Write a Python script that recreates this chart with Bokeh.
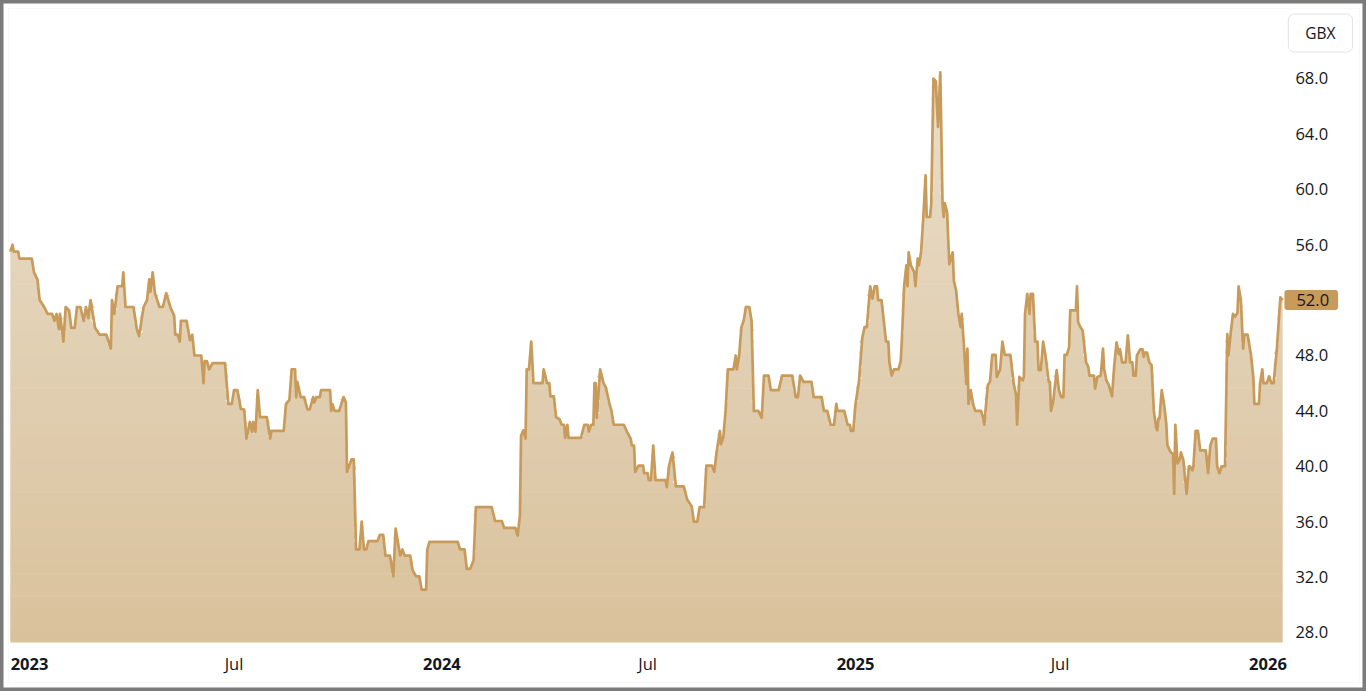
import numpy as np
import pandas as pd
from bokeh.plotting import figure
from bokeh.models import (Range1d, FixedTicker, NumeralTickFormatter,
                          DatetimeTickFormatter, DatetimeAxis, Label,
                          BoxAnnotation)
from bokeh.embed import file_html
from bokeh.resources import INLINE

# ---------------- data ----------------
base_date = "2023-01-01"          # day offsets are counted from this date
day_offsets = [
    -17, -15, -14, -10, -9, 2, 4, 7, 9, 13,
    16, 20, 22, 24, 26, 27, 30, 32, 35, 37,
    40, 42, 45, 48, 50, 52, 54, 58, 62, 68,
    72, 73, 75, 78, 82, 83, 85, 92, 95, 97,
    101, 104, 106, 107, 109, 111, 115, 118, 121, 125,
    128, 129, 131, 133, 134, 139, 142, 144, 146, 152,
    154, 155, 157, 159, 162, 173, 176, 179, 181, 184,
    187, 190, 192, 195, 197, 198, 200, 202, 204, 210,
    213, 214, 225, 227, 230, 232, 235, 236, 237, 240,
    243, 246, 248, 251, 252, 254, 257, 258, 266,
    267, 268, 270, 274, 278, 280, 281, 285, 287, 289, 292,
    294, 296, 298, 300, 308, 310, 313, 315, 319, 322,
    324, 326, 328, 330, 332, 337, 339, 342, 345, 347,
    351, 352, 354, 379, 381, 385, 387, 390, 393, 395,
    409, 412, 418, 420, 430, 432, 434, 435, 437, 439,
    440, 442, 444, 446, 454, 455, 458, 460, 461, 464,
    466, 469, 471, 473, 474, 476, 477, 488, 491, 494,
    495, 497, 499, 500, 501, 502, 505, 508, 510, 513,
    515, 517, 526, 529, 532, 533, 535, 536, 539, 541,
    543, 544, 547, 548, 550, 552, 554, 563, 564, 566,
    569, 572, 579, 582, 586, 588, 591, 593, 597, 599,
    604, 606, 608, 611, 612, 614, 616, 618, 623, 625,
    626, 628, 630, 632, 634, 637, 639, 641, 645, 648,
    650, 654, 656, 663, 666, 675, 678, 680, 682, 685,
    692, 694, 701, 703, 706, 709, 712, 714, 715, 721,
    724, 726, 727, 729, 731, 734, 737, 739, 741, 744,
    746, 748, 750, 751, 754, 756, 758, 760, 761, 763,
    765, 769, 771, 772, 774, 776, 777, 778, 780, 783,
    784, 786, 787, 789, 791, 793, 794, 797, 798, 800,
    802, 804, 806, 808, 809, 810, 812, 814, 817, 818,
    820, 822, 824, 825,
    827, 829, 830, 831, 833, 835, 837, 842, 844, 845,
    848, 850, 852, 855, 856, 859, 861, 863, 868, 871,
    873, 874, 876, 879, 880, 881, 883, 885, 886, 888,
    890, 892, 893, 895, 897, 899, 902, 903, 904, 906,
    909, 911, 913, 915, 916, 918, 920, 921, 926, 927,
    928, 930, 932, 935, 937, 938, 942, 943, 945, 948,
    950, 951, 953, 955, 958, 960, 962, 964, 965, 967,
    970, 972, 974, 976, 977, 979, 980, 983, 985, 986,
    987, 989, 991, 993, 995, 997, 998, 999, 1000, 1002,
    1004, 1006, 1007, 1010, 1012, 1013, 1014, 1016, 1018, 1019,
    1021, 1024, 1026, 1027, 1029, 1030, 1032, 1034, 1036, 1041,
    1043, 1045, 1047, 1050, 1051, 1053, 1055, 1058, 1060, 1061,
    1063, 1065, 1067, 1069, 1070, 1072, 1074, 1075, 1078, 1081,
    1083, 1084, 1088, 1089, 1091, 1092, 1095, 1097, 1099, 1101,
    1104, 1106, 1107, 1109,
]
prices = [
    55.5, 56.0, 55.5, 55.5, 55.0, 55.0, 54.0, 53.5, 52.0, 51.5,
    51.0, 51.0, 50.5, 51.0, 49.9, 51.0, 49.0, 51.5, 51.25, 50.0,
    50.0, 51.5, 51.5, 50.5, 51.5, 50.7, 52.0, 50.0, 49.5, 49.5,
    48.5, 52.0, 51.0, 53.0, 53.0, 54.0, 51.5, 51.5, 49.9, 49.4,
    51.5, 52.0, 53.5, 52.6, 54.0, 52.5, 51.5, 51.5, 52.5, 51.4,
    50.9, 49.5, 49.5, 49.0, 50.5, 50.5, 49.1, 49.5, 48.0, 48.0,
    46.0, 47.6, 47.6, 47.0, 47.45, 47.45, 44.5, 44.5, 45.5, 45.5,
    44.15, 44.1, 42.0, 43.2, 42.5, 43.2, 42.5, 45.5, 43.55, 43.55,
    42.0, 42.55, 42.55, 44.5, 44.8, 47.0, 47.0, 45.0, 46.1, 45.0,
    45.0, 44.1, 44.1, 45.0, 44.6, 45.0, 45.0, 45.5, 45.5,
    44.0, 44.5, 44.0, 44.0, 45.0, 44.6, 39.6, 40.5, 40.5, 34.0, 34.0,
    36.0, 34.0, 34.0, 34.6, 34.6, 35.05, 35.05, 33.55, 33.55, 32.05,
    35.5, 34.55, 33.55, 34.0, 33.55, 33.55, 32.5, 32.05, 32.05, 31.1,
    31.1, 34.0, 34.55, 34.55, 34.0, 34.0, 32.6, 32.6, 33.2, 37.05,
    37.05, 36.05, 36.05, 35.55, 35.55, 35.0, 36.45, 42.2, 42.6, 42.0,
    47.0, 47.0, 49.0, 46.0, 46.0, 47.0, 46.0, 46.0, 45.05, 45.05,
    43.55, 43.4, 43.0, 43.0, 42.05, 43.0, 42.05, 42.05, 43.0, 43.0,
    42.5, 43.0, 43.0, 46.0, 46.0, 43.5, 47.0, 46.0, 45.7, 44.6,
    44.0, 43.0, 43.0, 42.45, 42.0, 41.5, 41.5, 39.6, 40.05, 40.05,
    40.05, 39.5, 39.5, 39.0, 39.0, 41.5, 39.0, 39.0, 38.5, 40.05,
    41.0, 38.55, 38.55, 37.6, 37.1, 36.0, 36.0, 37.05, 37.05, 40.05,
    40.05, 39.6, 41.0, 42.55, 41.6, 42.1, 44.0, 47.0, 47.0, 48.0,
    47.0, 48.0, 50.05, 50.5, 51.5, 51.5, 50.5, 44.0, 44.0, 43.5,
    46.55, 46.55, 45.5, 45.5, 46.55, 46.55, 45.0, 45.0, 46.55, 46.1,
    46.1, 45.0, 45.0, 44.0, 44.0, 43.0, 43.0, 44.5, 44.0, 44.0,
    43.0, 43.0, 42.55, 42.55, 44.5, 46.1, 49.3, 50.05, 50.05, 53.0,
    52.1, 53.0, 53.0, 52.0, 52.0, 50.5, 49.0, 49.0, 47.5, 46.55,
    47.0, 47.0, 47.6, 49.1, 53.0, 54.5, 53.0, 55.45, 54.5, 54.0,
    53.0, 55.0, 54.5, 55.45, 58.0, 61.0, 58.0, 58.0, 58.95, 68.0,
    67.8, 64.5, 68.45, 58.95, 58.0, 59.0, 58.35, 54.6, 55.45, 53.4,
    52.7, 51.0, 50.05, 51.0,
    48.6, 45.95, 48.5, 44.5, 45.5, 44.5, 44.0, 44.0, 43.5, 43.0,
    45.85, 46.1, 48.05, 48.05, 46.45, 47.0, 49.0, 48.05, 48.05, 45.95,
    45.2, 43.0, 46.45, 46.2, 46.45, 51.0, 52.45, 51.0, 52.45, 52.45,
    49.0, 49.0, 46.95, 46.95, 49.0, 48.05, 46.1, 46.1, 44.0, 44.7,
    46.95, 45.5, 45.0, 45.0, 48.05, 48.05, 48.6, 51.25, 51.25, 53.0,
    50.4, 50.05, 49.8, 47.5, 47.2, 46.55, 46.55, 45.6, 46.45, 46.55,
    48.5, 47.0, 46.2, 45.9, 45.05, 47.3, 48.95, 48.1, 48.45, 47.5,
    47.5, 49.45, 47.5, 47.5, 46.55, 46.55, 48.0, 48.45, 48.45, 47.9,
    48.2, 48.2, 47.5, 47.3, 44.0, 42.8, 42.6, 43.45, 43.45, 45.5,
    44.5, 43.1, 41.5, 41.0, 40.9, 38.0, 43.0, 40.2, 40.5, 41.0,
    40.5, 38.0, 40.0, 40.0, 39.7, 40.0, 42.55, 42.55, 41.15, 41.15,
    39.5, 41.5, 42.0, 42.0, 40.0, 39.5, 40.0, 40.0, 49.55, 48.0,
    49.6, 51.0, 50.8, 51.1, 53.0, 52.0, 48.5, 49.5, 49.5, 48.0,
    46.45, 44.5, 44.5, 46.0, 47.0, 46.0, 46.0, 46.5, 46.0, 46.0,
    48.6, 51.1, 52.2, 52.0,
]
year_ticks = ["2023-01-01", "2024-01-01", "2025-01-01", "2026-01-01"]
mid_ticks = ["2023-07-01", "2024-07-01", "2025-07-01"]
y_ticks = [28, 32, 36, 40, 44, 48, 52, 56, 60, 64, 68]
currency = "GBX"

# ---------------- styling / view ----------------
LINE = "#c89b5b"
TEXT = "#131722"
FONT = "Open Sans"
FSIZE = "16.5px"
FILL_TOP = (234, 222, 203)
FILL_BOT = (217, 193, 155)

base = pd.Timestamp(base_date)
dates = base + pd.to_timedelta(day_offsets, unit="D")
price_arr = np.array(prices, dtype=float)


def ms(ts):
    return pd.Timestamp(ts).value / 1e6


def day_ms(d):
    return ms(base + pd.Timedelta(days=d))


# view window (the whole canvas is the plotting frame)
x_lo, x_hi = -25.66, 1183.19        # days from base_date
y_lo, y_hi = 23.74, 73.63
area_floor = 27.28                  # bottom of the price pane
pane_right = 1108.8                 # right edge of the price pane (days)

p = figure(width=1366, height=691, x_axis_type="datetime",
           x_range=Range1d(day_ms(x_lo), day_ms(x_hi)),
           y_range=Range1d(y_lo, y_hi),
           y_axis_location="right", output_backend="svg",
           toolbar_location=None, min_border=0,
           background_fill_color="white", border_fill_color="white",
           outline_line_color="#7b7b7b", outline_line_width=6)
p.grid.visible = False

# thin light frame around the chart widget
p.add_layout(BoxAnnotation(left=day_ms(-18.58), right=day_ms(1177.0),
                           top=73.05, bottom=24.39, fill_color=None,
                           line_color="#e9e9e9", line_width=1))

# gradient area fill: horizontal bands under the price line
n_bands = 50
edges = np.linspace(area_floor, 69.0, n_bands + 1)
for k in range(n_bands):
    lo = area_floor if k == 0 else edges[k] - 0.04
    hi = edges[k + 1] if k < n_bands - 1 else 80.0
    t = (0.5 * (edges[k] + edges[k + 1]) - area_floor) / (69.0 - area_floor)
    rgb = [int(round(b + (a - b) * t)) for a, b in zip(FILL_TOP, FILL_BOT)]
    col = "#%02x%02x%02x" % tuple(rgb)
    p.varea(x=dates, y1=lo, y2=np.clip(price_arr, lo, hi), fill_color=col)

p.line(x=dates, y=price_arr, line_color=LINE, line_width=2.7,
       line_join="round")


def style_axis(ax):
    ax.axis_line_color = None
    ax.major_tick_line_color = None
    ax.minor_tick_line_color = None
    ax.major_tick_out = 0
    ax.major_tick_in = 0
    ax.major_label_text_font = FONT
    ax.major_label_text_font_size = FSIZE
    ax.major_label_text_color = TEXT


# x axis: years (bold)
xa = p.xaxis[0]
style_axis(xa)
xa.ticker = FixedTicker(ticks=[ms(d) for d in year_ticks])
xa.formatter = DatetimeTickFormatter(years="%Y", months="%Y", days="%Y",
                                     hours="%Y", minutes="%Y")
xa.major_label_text_font_style = "bold"
xa.major_label_standoff = 16
xa.fixed_location = area_floor

# x axis: months (normal)
xm = DatetimeAxis(ticker=FixedTicker(ticks=[ms(d) for d in mid_ticks]),
                  formatter=DatetimeTickFormatter(years="%b", months="%b",
                                                  days="%b", hours="%b",
                                                  minutes="%b"))
style_axis(xm)
xm.major_label_standoff = 10
xm.fixed_location = area_floor
p.add_layout(xm, "below")

# y axis (right)
ya = p.yaxis[0]
style_axis(ya)
ya.ticker = FixedTicker(ticks=y_ticks)
ya.formatter = NumeralTickFormatter(format="0.0")
ya.major_label_standoff = 13
ya.fixed_location = day_ms(pane_right)

# currency box
p.add_layout(Label(x=day_ms(pane_right), y=71.28, x_offset=38, text=currency,
                   text_align="center", text_baseline="middle",
                   text_font=FONT, text_font_size="15.5px", text_color=TEXT,
                   background_fill_color="white",
                   border_line_color="#e0e3eb", border_line_width=1,
                   padding=dict(left=17, right=17, top=8, bottom=8),
                   border_radius=6))

# last price tag
p.add_layout(Label(x=day_ms(pane_right), y=prices[-1], x_offset=2,
                   text="%.1f" % prices[-1], text_align="left",
                   text_baseline="middle", text_font=FONT,
                   text_font_size=FSIZE, text_color=TEXT,
                   background_fill_color=LINE,
                   padding=dict(left=12, right=9, top=4, bottom=4),
                   border_radius=3))

open("out.html", "w").write(file_html(p, INLINE))
